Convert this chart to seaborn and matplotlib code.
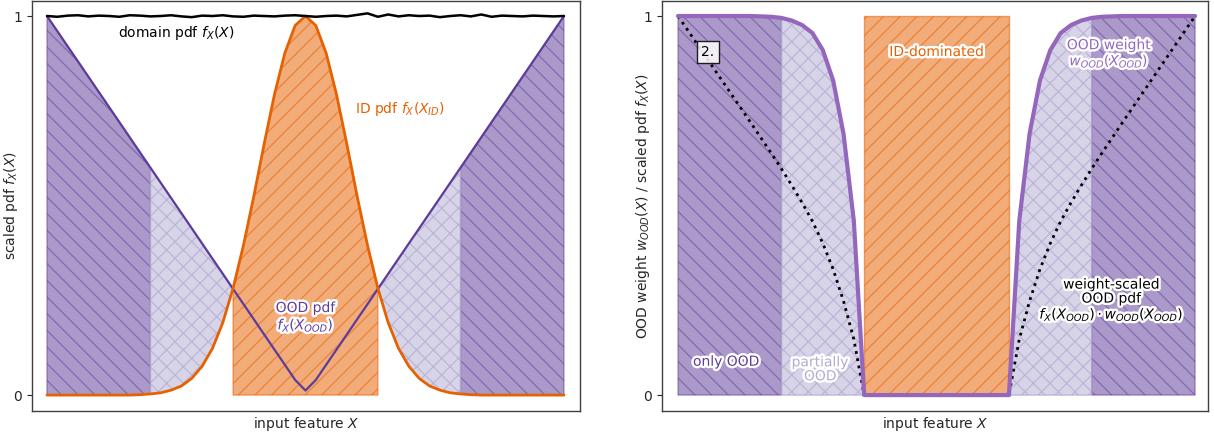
import numpy as np
import matplotlib
matplotlib.use("Agg")
import matplotlib.pyplot as plt
import matplotlib.patheffects as pe
import seaborn as sns

# ---- data -----------------------------------------------------------------
# feature grid (0 .. 1 in steps of 0.02)
feature_x = np.linspace(0.0, 1.0, 51)

# nearly flat domain density (scaled)
domain_pdf = [1.000, 0.998, 1.001, 1.002, 0.999, 1.001, 1.000, 0.998, 1.002, 1.001,
              0.999, 1.000, 1.002, 0.999, 0.997, 1.001, 1.000, 1.002, 0.999, 0.998,
              1.001, 1.000, 0.999, 1.001, 1.002, 1.000, 0.998, 1.000, 1.001, 0.999,
              1.003, 1.007, 0.998, 1.004, 0.999, 1.002, 1.000, 1.001, 0.997, 1.000,
              1.002, 0.999, 1.004, 0.998, 1.001, 1.000, 0.999, 1.001, 1.000, 0.999,
              1.000]

# in-distribution density (scaled)
id_pdf = [0.000, 0.000, 0.000, 0.000, 0.000, 0.000, 0.000, 0.000, 0.000, 0.001,
          0.003, 0.006, 0.013, 0.024, 0.044, 0.076, 0.123, 0.191, 0.282, 0.395,
          0.524, 0.662, 0.793, 0.902, 0.975, 1.000, 0.975, 0.902, 0.793, 0.662,
          0.524, 0.395, 0.282, 0.191, 0.123, 0.076, 0.044, 0.024, 0.013, 0.006,
          0.003, 0.001, 0.000, 0.000, 0.000, 0.000, 0.000, 0.000, 0.000, 0.000,
          0.000]

# out-of-distribution density (scaled)
ood_pdf = [1.000, 0.960, 0.920, 0.880, 0.840, 0.800, 0.760, 0.720, 0.680, 0.640,
           0.600, 0.560, 0.520, 0.480, 0.440, 0.400, 0.360, 0.320, 0.280, 0.240,
           0.200, 0.160, 0.120, 0.080, 0.040, 0.012, 0.040, 0.080, 0.120, 0.160,
           0.200, 0.240, 0.280, 0.320, 0.360, 0.400, 0.440, 0.480, 0.520, 0.560,
           0.600, 0.640, 0.680, 0.720, 0.760, 0.800, 0.840, 0.880, 0.920, 0.960,
           1.000]

# OOD weight
ood_weight = [1.000, 1.000, 1.000, 1.000, 1.000, 1.000, 1.000, 1.000, 0.999, 0.998,
              0.995, 0.988, 0.976, 0.955, 0.910, 0.830, 0.690, 0.460, 0.000, 0.000,
              0.000, 0.000, 0.000, 0.000, 0.000, 0.000, 0.000, 0.000, 0.000, 0.000,
              0.000, 0.000, 0.000, 0.460, 0.690, 0.830, 0.910, 0.955, 0.976, 0.988,
              0.995, 0.998, 0.999, 1.000, 1.000, 1.000, 1.000, 1.000, 1.000, 1.000,
              1.000]

# region boundaries on the feature axis
only_ood_bounds = (0.20, 0.80)
id_bounds = (0.36, 0.64)

# ---- colours ----------------------------------------------------------------
ORANGE = "#e66101"
DARK_PURPLE = "#5e3c99"
LIGHT_PURPLE = "#b2abd2"
WEIGHT_PURPLE = "#9467bd"

sns.set_style("ticks")
plt.rcParams.update({
    "font.family": ["DejaVu Sans"],
    "font.size": 10,
    "axes.labelsize": 10,
    "xtick.labelsize": 10,
    "ytick.labelsize": 10,
    "axes.edgecolor": "0.25",
    "axes.linewidth": 1.0,
    "ytick.major.size": 3.5,
    "ytick.major.width": 0.8,
    "hatch.linewidth": 0.9,
})

x = feature_x
idp = np.array(id_pdf)
oodp = np.array(ood_pdf)
w = np.array(ood_weight)
weighted = oodp * w

lo, hi = only_ood_bounds
a, b = id_bounds
eps = 1e-9
mask_only_l = x <= lo + eps
mask_only_r = x >= hi - eps
mask_part_l = (x >= lo - eps) & (x <= a + eps)
mask_part_r = (x >= b - eps) & (x <= hi + eps)
mask_id = (x >= a - eps) & (x <= b + eps)


def rgba(c, alpha):
    r, g, bb = matplotlib.colors.to_rgb(c)
    return (r, g, bb, alpha)


only_style = dict(facecolor=rgba(DARK_PURPLE, 0.52), edgecolor=rgba(DARK_PURPLE, 0.5),
                  hatch="\\\\", linewidth=1.0)
part_style = dict(facecolor=rgba(LIGHT_PURPLE, 0.5), edgecolor=rgba(LIGHT_PURPLE, 0.75),
                  hatch="xx", linewidth=1.0)
id_style = dict(facecolor=rgba(ORANGE, 0.52), edgecolor=rgba(ORANGE, 0.55),
                hatch="//", linewidth=1.0)

halo = [pe.withStroke(linewidth=3.5, foreground="white")]

fig = plt.figure(figsize=(12.14, 4.34), dpi=100)
axL = fig.add_axes([32 / 1214, 1 - 411 / 434, 548 / 1214, 410 / 434])
axR = fig.add_axes([662 / 1214, 1 - 411 / 434, 546 / 1214, 410 / 434])

# ---- left: densities ------------------------------------------------------------
axL.fill_between(x, idp, oodp, where=mask_only_l, **only_style)
axL.fill_between(x, idp, oodp, where=mask_only_r, **only_style)
axL.fill_between(x, idp, oodp, where=mask_part_l, **part_style)
axL.fill_between(x, idp, oodp, where=mask_part_r, **part_style)
axL.fill_between(x, 0, idp, where=mask_id, **id_style)

sns.lineplot(x=x, y=oodp, ax=axL, color=DARK_PURPLE, linewidth=1.6)
sns.lineplot(x=x, y=idp, ax=axL, color=ORANGE, linewidth=2.0)
sns.lineplot(x=x, y=domain_pdf, ax=axL, color="black", linewidth=1.8)

axL.text(0.25, 0.955, r"domain pdf $f_X(X)$", ha="center", va="center", color="black")
axL.text(0.595, 0.755, r"ID pdf $f_X(X_{ID})$", ha="left", va="center", color=ORANGE)
axL.text(0.5, 0.205, "OOD pdf\n" + r"$f_X(X_{OOD})$", ha="center", va="center",
         color=DARK_PURPLE, path_effects=halo, linespacing=1.1)

axL.set_xlim(-0.029, 1.031)
axL.set_ylim(-0.042, 1.0396)
axL.set_xticks([])
axL.set_yticks([0, 1])
axL.set_yticklabels(["0", "1"])
axL.set_xlabel(r"input feature $X$", labelpad=3)
axL.set_ylabel(r"scaled pdf $f_X(X)$")
axL.yaxis.set_label_coords(-0.022, 0.5)

# ---- right: OOD weight ------------------------------------------------------------
axR.fill_between(x, 0, w, where=mask_only_l, **only_style)
axR.fill_between(x, 0, w, where=mask_only_r, **only_style)
axR.fill_between(x, 0, w, where=mask_part_l, **part_style)
axR.fill_between(x, 0, w, where=mask_part_r, **part_style)
axR.fill_between(x, 0, np.ones_like(x), where=mask_id, **id_style)

sns.lineplot(x=x, y=weighted, ax=axR, color="black", linewidth=2.0, linestyle=":")
sns.lineplot(x=x, y=w, ax=axR, color=WEIGHT_PURPLE, linewidth=3.0)

axR.text(0.058, 0.905, "2.", ha="center", va="center", color="black", zorder=5,
         bbox=dict(boxstyle="square,pad=0.3", facecolor="white", alpha=0.85,
                   edgecolor="black", linewidth=1.0))
axR.text(0.5, 0.905, "ID-dominated", ha="center", va="center", color=ORANGE,
         path_effects=halo)
axR.text(0.833, 0.9, "OOD weight\n" + r"$w_{OOD}(X_{OOD})$", ha="center", va="center",
         color=WEIGHT_PURPLE, path_effects=halo, linespacing=1.0)
axR.text(0.838, 0.25, "weight-scaled\nOOD pdf\n" + r"$f_X(X_{OOD})\cdot w_{OOD}(X_{OOD})$",
         ha="center", va="center", color="black", path_effects=halo, linespacing=1.0)
axR.text(0.093, 0.088, "only OOD", ha="center", va="center", color=DARK_PURPLE,
         path_effects=halo)
axR.text(0.275, 0.068, "partially\nOOD", ha="center", va="center", color=LIGHT_PURPLE,
         path_effects=halo, linespacing=1.0)

axR.set_xlim(-0.031, 1.025)
axR.set_ylim(-0.042, 1.0396)
axR.set_xticks([])
axR.set_yticks([0, 1])
axR.set_yticklabels(["0", "1"])
axR.set_xlabel(r"input feature $X$", labelpad=3)
axR.set_ylabel(r"OOD weight $w_{OOD}(X)$ / scaled pdf $f_X(X)$")
axR.yaxis.set_label_coords(-0.019, 0.5)

fig.savefig("out.png", dpi=100)
